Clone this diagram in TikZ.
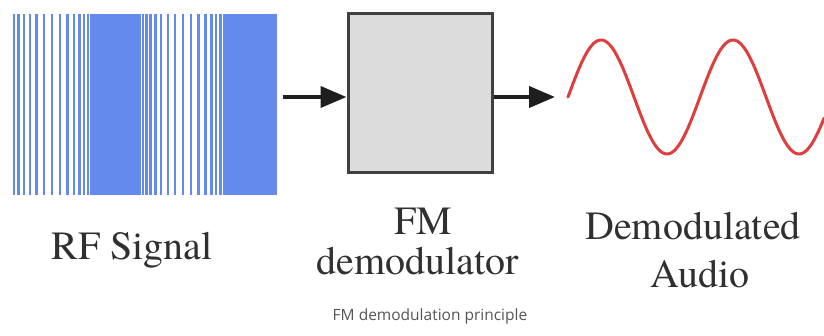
\documentclass[tikz,border=0pt]{standalone}
\usepackage{fontspec}
\setmainfont{texgyretermes-regular.otf}
\newfontfamily\seriffont{texgyretermes-regular.otf}
\newfontfamily\capfont{Open Sans}
\usetikzlibrary{arrows.meta}

\definecolor{rfblue}{RGB}{100,138,238}
\definecolor{wavered}{RGB}{222,62,62}
\definecolor{boxfill}{RGB}{220,220,220}
\definecolor{boxline}{RGB}{64,64,64}
\definecolor{txt}{RGB}{48,48,48}
\definecolor{captxt}{RGB}{85,85,85}
\definecolor{arrowc}{RGB}{30,30,30}

\tikzset{
  rfline/.style={rfblue, line width=2.4pt},
  block/.style={draw=boxline, fill=boxfill, line width=3pt, inner sep=0pt,
                minimum width=144pt, minimum height=159pt},
  flow/.style={arrowc, line width=4pt,
               -{Triangle[length=26pt, width=21pt]}},
  lbl/.style={txt, font=\seriffont\fontsize{40}{40}\selectfont, inner sep=0pt, anchor=base},
  caplbl/.style={captxt, font=\capfont\fontsize{15.5}{15.5}\selectfont, inner sep=0pt, anchor=base},
  audio/.style={wavered, line width=3pt, line cap=round, line join=round}
}

\begin{document}
\begin{tikzpicture}[x=1pt, y=-1pt]
  \useasboundingbox (0,0) rectangle (824,336);

  % frequency-modulated carrier: stripe spacing follows the modulating tone
  \node[inner sep=0pt, minimum width=264pt, minimum height=181pt] (rf) at (145,104.5) {};
  \xdef\sx{14}
  \foreach \k in {1,...,220}{
    \ifdim\sx pt<276pt
      \draw[rfline] (\sx,14) -- (\sx,195);
      \pgfmathsetmacro\sp{max(1.3,4.4+3.6*cos(2.6866*(\sx-47)))}
      \pgfmathsetmacro\nx{\sx+\sp}
      \xdef\sx{\nx}
    \fi
  }

  % demodulator block
  \node[block] (demod) at (420,93.5) {};

  % demodulated audio tone
  \coordinate (w0) at (568,97);
  \draw[audio] plot[domain=0:256, samples=220] ({568+\x},{97-57*sin(2.7273*\x)});

  % signal flow
  \coordinate (a1) at (283,97);
  \draw[flow] (a1) -- (a1 -| demod.west);
  \draw[flow] (demod.east |- a1) -- ([xshift=-13pt]w0);

  % labels
  \node[lbl] (rftxt) at (132,260) {RF Signal};
  \node[lbl] (fmtxt) at (423,235) {FM};
  \node[lbl] (demtxt) at (418,275) {demodulator};
  \node[lbl] (dmtxt) at (693,240) {Demodulated};
  \node[lbl] (autxt) at (700,288) {Audio};
  \node[caplbl] (caption) at (430,320) {FM demodulation principle};
\end{tikzpicture}
\end{document}
